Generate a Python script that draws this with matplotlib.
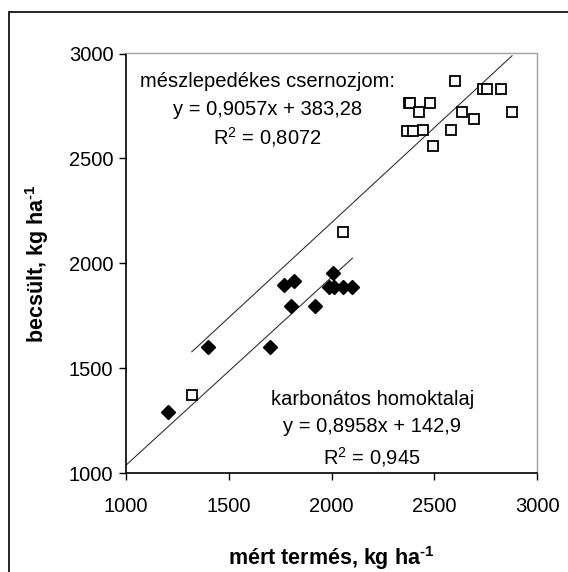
import numpy as np
import matplotlib
matplotlib.use('Agg')
import matplotlib.pyplot as plt
from matplotlib.patches import Rectangle

plt.rcParams['font.family'] = ['Liberation Sans', 'DejaVu Sans']
plt.rcParams['mathtext.fontset'] = 'custom'
plt.rcParams['mathtext.rm'] = 'Liberation Sans'
plt.rcParams['mathtext.it'] = 'Liberation Sans'
plt.rcParams['mathtext.bf'] = 'Liberation Sans:bold'

# mészlepedékes csernozjom (open squares)
csern_x = [1320, 2056, 2366, 2374, 2380, 2395, 2426, 2442, 2479, 2493,
           2580, 2598, 2634, 2690, 2736, 2755, 2823, 2877]
csern_y = [1373, 2150, 2631, 2766, 2766, 2631, 2720, 2637, 2766, 2559,
           2637, 2870, 2720, 2688, 2832, 2832, 2832, 2720]

# karbonátos homoktalaj (filled diamonds)
homok_x = [1206, 1400, 1701, 1766, 1803, 1819, 1920, 1985, 2006, 2012, 2053, 2101]
homok_y = [1293, 1600, 1600, 1897, 1798, 1918, 1798, 1889, 1953, 1889, 1889, 1889]

# trendlines from the chart
csern_fit = (0.9057, 383.28)
homok_fit = (0.8958, 142.9)
homok_fit_range = (1000, 2101)

ticks = [1000, 1500, 2000, 2500, 3000]
fs = 14.5
lfs = 15.5

fig = plt.figure(figsize=(5.68, 5.72), dpi=100)
ax = fig.add_axes([126 / 568, 1 - 473.3 / 572, (537.3 - 126) / 568, (473.3 - 53.5) / 572])

# trendlines
xs = np.array([min(csern_x), max(csern_x)])
ax.plot(xs, csern_fit[0] * xs + csern_fit[1], color='#333333', lw=0.8, zorder=2)
xs = np.array(homok_fit_range)
ax.plot(xs, homok_fit[0] * xs + homok_fit[1], color='#333333', lw=0.8, zorder=2)

ax.plot(csern_x, csern_y, 's', ms=6.5, mfc='white', mec='black', mew=1.3,
        linestyle='none', zorder=3)
ax.plot(homok_x, homok_y, 'D', ms=7, mfc='black', mec='black',
        linestyle='none', zorder=3)

ax.set_xlim(1000, 3000)
ax.set_ylim(1000, 3000)
ax.set_xticks(ticks)
ax.set_yticks(ticks)
ax.tick_params(direction='out', length=5, width=1, labelsize=fs, pad=4)
ax.tick_params(axis='x', pad=12)

for s in ['left', 'bottom']:
    ax.spines[s].set_color('black')
    ax.spines[s].set_linewidth(1.2)
for s in ['top', 'right']:
    ax.spines[s].set_color('#a0a0a0')
    ax.spines[s].set_linewidth(1.0)

sup = r'$^{\mathbf{\u2010 1}}$'.replace(r'\u2010 ', '\u2010')
ax.set_xlabel('mért termés, kg ha' + sup, fontsize=lfs, fontweight='bold', labelpad=20)
ax.set_ylabel('becsült, kg ha' + sup, fontsize=lfs, fontweight='bold', labelpad=13)

# equations
ax.text(1686, 2866, 'mészlepedékes csernozjom:', fontsize=fs, ha='center', va='center')
ax.text(1686, 2735, 'y = 0,9057x + 383,28', fontsize=fs, ha='center', va='center')
ax.text(1686, 2602, r'R$^2$ = 0,8072', fontsize=fs, ha='center', va='center')

ax.text(2197, 1350, 'karbonátos homoktalaj', fontsize=fs, ha='center', va='center')
ax.text(2197, 1222, 'y = 0,8958x + 142,9', fontsize=fs, ha='center', va='center')
ax.text(2197, 1079, r'R$^2$ = 0,945', fontsize=fs, ha='center', va='center')

# outer chart frame (cut at right and bottom in the original)
fig.patches.append(Rectangle((9 / 568, -0.1), 1.2, 1 - 12 / 572 + 0.1,
                             transform=fig.transFigure, fill=False,
                             edgecolor='black', lw=1.2))

fig.savefig('out.png', dpi=100)
